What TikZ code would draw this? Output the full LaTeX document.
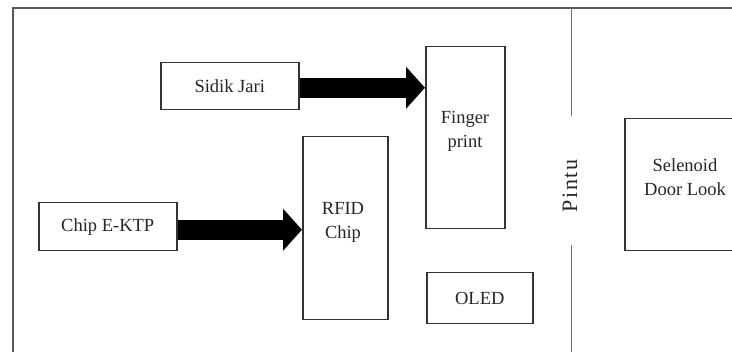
\documentclass[tikz,border=0pt]{standalone}
\usepackage{fontspec}
\setmainfont{Liberation Serif}
\usetikzlibrary{arrows.meta}
\begin{document}
\begin{tikzpicture}[x=1pt,y=-1pt,
  box/.style={draw=black!80,line width=1.5pt,rectangle,inner sep=0pt,anchor=north west,
              font=\fontsize{18.5}{24}\selectfont,text=black!85},
  lbl/.style={font=\fontsize{18.5}{24}\selectfont,align=center,text=black!85,inner sep=0pt},
  frameline/.style={draw=black!65,line width=1.2pt},
  doorline/.style={draw=black!55,line width=1pt},
  blockarrow/.style={draw=black,line width=20pt,-{Triangle[length=19pt,width=41pt]}}]
\useasboundingbox (0,0) rectangle (732,352);
\fill[white] (0,0) rectangle (732,352);
\clip (0,0) rectangle (732,352);
\draw[frameline] (13,8) rectangle (760,370);
% boxes
\node[box,minimum width=138pt,minimum height=47pt] (sj) at (160,62) {Sidik Jari};
\node[box,minimum width=138pt,minimum height=48pt] (ektp) at (38,202) {Chip E-KTP};
\node[box,minimum width=79pt,minimum height=182pt] (fp) at (425,46) {};
\node[box,minimum width=85pt,minimum height=183pt] (rfid) at (302,136) {};
\node[box,minimum width=106pt,minimum height=51pt] (oled) at (426,272) {OLED};
\node[box,minimum width=140pt,minimum height=132pt] (sol) at (624,118) {};
% labels
\node[lbl] (fpt) at (465,131) {Finger\\print};
\node[lbl] (rft) at (343,222) {RFID\\Chip};
\node[lbl] (solt) at (685,177) {Selenoid\\Door Look};
\node[lbl,rotate=90,font=\fontsize{22}{24}\selectfont] (pintu) at (570,186) {\addfontfeature{LetterSpace=8}Pintu};
% door line
\coordinate (d1) at (571,8);
\coordinate (d2) at (571,116);
\coordinate (d3) at (571,245);
\coordinate (d4) at (571,352);
\draw[doorline] (d1) -- (d2);
\draw[doorline] (d3) -- (d4);
% arrows
\draw[blockarrow] ([yshift=-1.5pt]sj.east) -- ([yshift=-1.5pt]sj.east -| fp.west);
\draw[blockarrow] ([yshift=-3pt]ektp.east) -- ([yshift=-3pt]ektp.east -| rfid.west);
\end{tikzpicture}
\end{document}
